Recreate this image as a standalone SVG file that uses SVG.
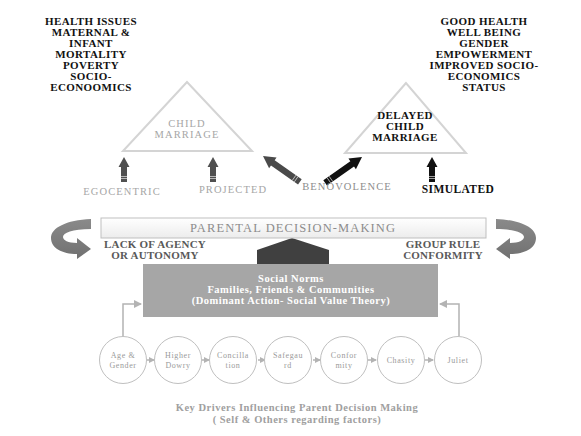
<svg xmlns="http://www.w3.org/2000/svg" xmlns:xlink="http://www.w3.org/1999/xlink" width="581" height="436" viewBox="0 0 581 436">
<style>
text{font-family:"Liberation Serif","Times New Roman",serif;text-anchor:middle}
.blk{font-weight:bold;font-size:11px;fill:#111;letter-spacing:0.4px}
.tri{fill:none;stroke:#d4d4d4;stroke-width:2}
.gl{font-size:10.5px;fill:#a6a6a6;letter-spacing:1.1px}
.side{font-weight:bold;font-size:11px;fill:#595959;letter-spacing:0.2px}
.sn{font-weight:bold;font-size:10.5px;fill:#fff;letter-spacing:0.5px}
.circ{fill:#fff;stroke:#bfbfbf;stroke-width:1}
.ct{font-size:8px;fill:#9a9a9a;letter-spacing:0.6px}
.con{stroke:#b3b3b3;stroke-width:1.5;fill:none}
.key{font-weight:bold;font-size:10.5px;fill:#a0a0a0;letter-spacing:0.5px}
</style>
<defs>
<linearGradient id="pdm" x1="0" y1="0" x2="0" y2="1">
<stop offset="0" stop-color="#ffffff"/><stop offset="1" stop-color="#ececec"/>
</linearGradient>
<linearGradient id="curv" x1="0" y1="0" x2="0" y2="1">
<stop offset="0" stop-color="#8a8a8a"/><stop offset="1" stop-color="#707070"/>
</linearGradient>
<g id="up">
<polygon points="0,0 5.5,10 3,10 3,25 -3,25 -3,10 -5.5,10"/>
<line x1="-3" y1="19.5" x2="3" y2="19.5" stroke="#fff" stroke-width="0.6"/>
<line x1="-3" y1="21.5" x2="3" y2="21.5" stroke="#fff" stroke-width="0.6"/>
</g>
<g id="diag">
<polygon points="0,0 6.5,12 3.2,12 3.2,45 -3.2,45 -3.2,12 -6.5,12"/>
<line x1="-3.2" y1="38" x2="3.2" y2="38" stroke="#fff" stroke-width="0.6"/>
<line x1="-3.2" y1="40.5" x2="3.2" y2="40.5" stroke="#fff" stroke-width="0.6"/>
</g>
<path id="curl" d="M91,219 C66,220 51,228 51,238 C51,248 62,254 77,254 L77,259 L91,249 L77,238 L77,243 C68,243 63,240 63,237 C63,233 72,229 91,229 Z"/>
<marker id="ah" markerWidth="6" markerHeight="6" refX="5" refY="3" orient="auto" markerUnits="userSpaceOnUse">
<polygon points="0,0 6,3 0,6" fill="#b3b3b3"/>
</marker>
<marker id="ah2" markerWidth="8" markerHeight="8" refX="7" refY="4" orient="auto" markerUnits="userSpaceOnUse">
<polygon points="0,0 8,4 0,8" fill="#b3b3b3"/>
</marker>
</defs>
<rect width="581" height="436" fill="#fff"/>

<g id="outcomes-left">
<text class="blk" x="91" y="25">HEALTH ISSUES</text>
<text class="blk" x="91" y="36">MATERNAL &amp;</text>
<text class="blk" x="91" y="47">INFANT</text>
<text class="blk" x="91" y="58">MORTALITY</text>
<text class="blk" x="91" y="69">POVERTY</text>
<text class="blk" x="91" y="80">SOCIO-</text>
<text class="blk" x="91" y="91">ECONOOMICS</text>
</g>
<g id="outcomes-right">
<text class="blk" x="484" y="25">GOOD HEALTH</text>
<text class="blk" x="484" y="36">WELL BEING</text>
<text class="blk" x="484" y="47">GENDER</text>
<text class="blk" x="484" y="58">EMPOWERMENT</text>
<text class="blk" x="484" y="69">IMPROVED SOCIO-</text>
<text class="blk" x="484" y="80">ECONOMICS</text>
<text class="blk" x="484" y="91">STATUS</text>
</g>

<g id="child-marriage">
<polygon class="tri" points="187,82 123,151 252,151"/>
<text class="gl" x="187" y="127">CHILD</text>
<text class="gl" x="187" y="138">MARRIAGE</text>
</g>
<g id="delayed-child-marriage">
<polygon class="tri" points="406,83 345,153 466,153"/>
<text class="blk" x="405" y="119">DELAYED</text>
<text class="blk" x="405" y="130">CHILD</text>
<text class="blk" x="405" y="141">MARRIAGE</text>
</g>

<g id="connectors">
<use xlink:href="#up" href="#up" transform="translate(124,157)" fill="#505050"/>
<use xlink:href="#up" href="#up" transform="translate(213,157)" fill="#505050"/>
<use xlink:href="#up" href="#up" transform="translate(432,157)" fill="#111"/>
<use xlink:href="#diag" href="#diag" transform="translate(263,156) rotate(-55)" fill="#4a4a4a"/>
<use xlink:href="#diag" href="#diag" transform="translate(362,157) rotate(55)" fill="#111"/>
<use xlink:href="#curl" href="#curl" fill="url(#curv)"/>
<use xlink:href="#curl" href="#curl" transform="translate(587,0) scale(-1,1)" fill="url(#curv)"/>
<polygon points="257,250 292,238 329,250 329,264 257,264" fill="#404040"/>
<polyline class="con" points="123,337 123,304 141,304" marker-end="url(#ah2)"/>
<polyline class="con" points="459,336 459,304 440,304" marker-end="url(#ah2)"/>
<line class="con" x1="147" y1="360" x2="154" y2="360" marker-end="url(#ah)"/>
<line class="con" x1="202" y1="360" x2="209" y2="360" marker-end="url(#ah)"/>
<line class="con" x1="258" y1="360" x2="265" y2="360" marker-end="url(#ah)"/>
<line class="con" x1="313" y1="360" x2="320" y2="360" marker-end="url(#ah)"/>
<line class="con" x1="368" y1="360" x2="376" y2="360" marker-end="url(#ah)"/>
<line class="con" x1="425" y1="360" x2="433" y2="360" marker-end="url(#ah)"/>
</g>

<g id="labels">
<text class="gl" x="122" y="195">EGOCENTRIC</text>
<text class="gl" x="233" y="193">PROJECTED</text>
<text class="gl" x="347" y="190" style="fill:#8c8c8c">BENOVOLENCE</text>
<text class="blk" x="458" y="193" style="font-size:11.5px">SIMULATED</text>
</g>

<g id="parental-decision-making">
<rect x="101" y="218" width="385" height="20" fill="url(#pdm)" stroke="#bfbfbf" stroke-width="1"/>
<text x="293" y="232" style="font-size:12.5px;fill:#8c8c8c;letter-spacing:1.1px">PARENTAL DECISION-MAKING</text>
</g>
<g id="lack-of-agency">
<text class="side" x="155" y="248">LACK OF AGENCY</text>
<text class="side" x="155" y="259">OR AUTONOMY</text>
</g>
<g id="group-rule">
<text class="side" x="443" y="248">GROUP RULE</text>
<text class="side" x="443" y="259">CONFORMITY</text>
</g>

<g id="social-norms">
<rect x="143" y="264" width="295" height="53" fill="#a6a6a6"/>
<text class="sn" x="291" y="282">Social Norms</text>
<text class="sn" x="291" y="293">Families, Friends &amp; Communities</text>
<text class="sn" x="291" y="304">(Dominant Action- Social Value Theory)</text>
</g>

<g id="age-gender"><circle class="circ" cx="123" cy="360" r="23.5"/><text class="ct" x="123" y="358">Age &amp;</text><text class="ct" x="123" y="368">Gender</text></g>
<g id="higher-dowry"><circle class="circ" cx="178" cy="360" r="23.5"/><text class="ct" x="178" y="358">Higher</text><text class="ct" x="178" y="368">Dowry</text></g>
<g id="concillation"><circle class="circ" cx="233" cy="360" r="23.5"/><text class="ct" x="233" y="358">Concilla</text><text class="ct" x="233" y="368">tion</text></g>
<g id="safegaurd"><circle class="circ" cx="288" cy="360" r="23.5"/><text class="ct" x="288" y="358">Safegau</text><text class="ct" x="288" y="368">rd</text></g>
<g id="conformity"><circle class="circ" cx="344" cy="360" r="23.5"/><text class="ct" x="344" y="358">Confor</text><text class="ct" x="344" y="368">mity</text></g>
<g id="chasity"><circle class="circ" cx="401" cy="360" r="23.5"/><text class="ct" x="401" y="363">Chasity</text></g>
<g id="juliet"><circle class="circ" cx="458" cy="360" r="23.5"/><text class="ct" x="458" y="363">Juliet</text></g>

<g id="caption">
<text class="key" x="297" y="411">Key Drivers Influencing Parent Decision Making</text>
<text class="key" x="297" y="423">( Self &amp; Others regarding factors)</text>
</g>
</svg>
